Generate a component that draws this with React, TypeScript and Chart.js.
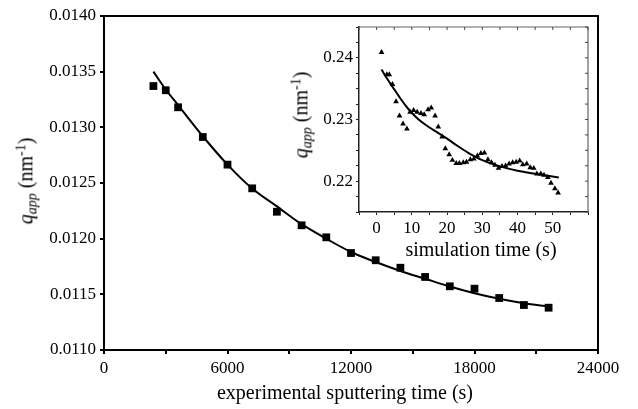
import React, { useEffect, useRef } from "react";
import { Chart, registerables } from "chart.js";

Chart.register(...registerables);

const FONT = "'Liberation Serif', 'Times New Roman', serif";

// Main chart: experimental data
const sputterTime = [2400, 3000, 3600, 4800, 6000, 7200, 8400, 9600, 10800, 12000, 13200, 14400, 15600, 16800, 18000, 19200, 20400, 21600];
const qMeasured = [0.013371, 0.013333, 0.01318, 0.012913, 0.012665, 0.012452, 0.012242, 0.01212, 0.012012, 0.011871, 0.011806, 0.011739, 0.011656, 0.011572, 0.011551, 0.011467, 0.011404, 0.01138];
const fitTime = [2400, 3000, 3600, 4800, 6000, 7200, 8400, 9600, 10800, 12000, 13200, 14400, 15600, 16800, 18000, 19200, 20400, 21600];
const qFit = [0.0135, 0.01334, 0.0132, 0.01292, 0.012665, 0.01245, 0.01229, 0.01213, 0.012, 0.01188, 0.01179, 0.01171, 0.01164, 0.01157, 0.01151, 0.01146, 0.01142, 0.01139];

// Inset: simulation data
const simTime = [1.4, 2.9, 3.6, 4.5, 5.5, 6.5, 7.5, 8.6, 9.5, 10.5, 11.5, 12.6, 13.5, 14.6, 15.5, 16.6, 17.5, 18.6, 19.5, 20.6, 21.5, 22.6, 23.5, 24.6, 25.5, 26.6, 27.6, 28.6, 29.6, 30.6, 31.6, 32.6, 33.6, 34.6, 35.6, 36.6, 37.6, 38.6, 39.6, 40.6, 41.5, 42.6, 43.6, 44.6, 45.5, 46.6, 47.5, 48.6, 49.5, 50.6, 51.5];
const qSim = [0.2409, 0.2373, 0.2373, 0.2357, 0.2329, 0.2306, 0.2293, 0.2285, 0.2312, 0.2315, 0.2312, 0.231, 0.2308, 0.2316, 0.2319, 0.2306, 0.2288, 0.2272, 0.2253, 0.2243, 0.2234, 0.2229, 0.2229, 0.223, 0.2231, 0.2235, 0.2236, 0.2241, 0.2245, 0.2246, 0.2235, 0.223, 0.2226, 0.2221, 0.2224, 0.2225, 0.2228, 0.223, 0.2231, 0.2233, 0.2227, 0.2228, 0.2222, 0.2221, 0.2212, 0.2212, 0.221, 0.2206, 0.2197, 0.2188, 0.2181];
const simFitTime = [1.4, 3, 5, 7, 9, 11, 13, 15, 17, 20, 23, 26, 30, 35, 40, 45, 51.7];
const qSimFit = [0.2381, 0.2366, 0.2349, 0.2332, 0.2317, 0.2305, 0.2295, 0.2287, 0.228, 0.2269, 0.2257, 0.2246, 0.2234, 0.2224, 0.2217, 0.2212, 0.2206];

const mainXLabelStep = 6000;

const toXY = (xs: number[], ys: number[]) => xs.map((x, i) => ({ x, y: ys[i] }));

const mainFrame = {
  id: "mainFrame",
  afterDraw(chart: any) {
    const { ctx, chartArea: a } = chart;
    ctx.save();
    ctx.strokeStyle = "#000";
    ctx.lineWidth = 2;
    ctx.strokeRect(a.left, a.top, a.right - a.left, a.bottom - a.top);
    ctx.restore();
  },
};

const insetFrame = {
  id: "insetFrame",
  afterDraw(chart: any) {
    const { ctx, chartArea: a } = chart;
    const xs = chart.scales.x;
    const ys = chart.scales.y;
    ctx.save();
    ctx.strokeStyle = "#666";
    ctx.lineWidth = 1.2;
    ctx.beginPath();
    ctx.moveTo(a.left, a.top);
    ctx.lineTo(a.right, a.top);
    ctx.lineTo(a.right, a.bottom);
    ctx.stroke();
    ctx.strokeStyle = "#444";
    ctx.lineWidth = 1;
    ctx.beginPath();
    xs.ticks.forEach((t: any) => {
      const px = xs.getPixelForValue(t.value);
      ctx.moveTo(px, a.top);
      ctx.lineTo(px, a.top + 3);
    });
    ys.ticks.forEach((t: any) => {
      const py = ys.getPixelForValue(t.value);
      ctx.moveTo(a.right, py);
      ctx.lineTo(a.right - 3, py);
    });
    ctx.stroke();
    ctx.restore();
  },
};

const tickFont = { family: FONT, size: 17 };

export default function App() {
  const mainRef = useRef<HTMLCanvasElement>(null);
  const insetRef = useRef<HTMLCanvasElement>(null);

  useEffect(() => {
    document.body.style.margin = "0";
    const main = new Chart(mainRef.current!, {
      type: "scatter",
      data: {
        datasets: [
          {
            type: "line",
            data: toXY(fitTime, qFit),
            borderColor: "#000",
            borderWidth: 2,
            pointRadius: 0,
            cubicInterpolationMode: "monotone",
            fill: false,
          },
          {
            data: toXY(sputterTime, qMeasured),
            pointStyle: "rect",
            pointRadius: 5.5,
            backgroundColor: "#000",
            borderColor: "#000",
            borderWidth: 0,
          },
        ],
      } as any,
      options: {
        responsive: false,
        animation: false,
        events: [],
        layout: { padding: { top: 16, right: 40, left: 0, bottom: 0 } },
        plugins: { legend: { display: false }, tooltip: { enabled: false } },
        scales: {
          x: {
            type: "linear",
            min: 0,
            max: 24000,
            afterFit: (s: any) => { s.height = 59; },
            border: { color: "#000", width: 2 },
            grid: { drawOnChartArea: false, drawTicks: true, tickLength: 4, color: "#000", lineWidth: 2 },
            ticks: {
              stepSize: 3000,
              color: "#000",
              font: tickFont,
              padding: 4,
              maxRotation: 0,
              autoSkip: false,
              callback: (v: any) => (Number(v) % mainXLabelStep === 0 ? String(v) : ""),
            },
          },
          y: {
            type: "linear",
            min: 0.011,
            max: 0.014,
            afterFit: (s: any) => { s.width = 104; },
            border: { color: "#000", width: 2 },
            grid: { drawOnChartArea: false, drawTicks: true, tickLength: 4, color: "#000", lineWidth: 2 },
            ticks: {
              stepSize: 0.0005,
              color: "#000",
              font: tickFont,
              padding: 4,
              autoSkip: false,
              callback: (v: any) => Number(v).toFixed(4),
            },
          },
        },
      } as any,
      plugins: [mainFrame],
    });

    const inset = new Chart(insetRef.current!, {
      type: "scatter",
      data: {
        datasets: [
          {
            type: "line",
            data: toXY(simFitTime, qSimFit),
            borderColor: "#000",
            borderWidth: 2,
            pointRadius: 0,
            cubicInterpolationMode: "monotone",
            fill: false,
          },
          {
            data: toXY(simTime, qSim),
            pointStyle: "triangle",
            pointRadius: 3.3,
            backgroundColor: "#000",
            borderColor: "#000",
            borderWidth: 0,
          },
        ],
      } as any,
      options: {
        responsive: false,
        animation: false,
        events: [],
        layout: { padding: { top: 27, right: 50, left: 0, bottom: 0 } },
        plugins: { legend: { display: false }, tooltip: { enabled: false } },
        scales: {
          x: {
            type: "linear",
            min: -5,
            max: 60,
            afterFit: (s: any) => { s.height = 197; },
            border: { color: "#222", width: 1.5 },
            grid: { drawOnChartArea: false, drawTicks: true, tickLength: 3, color: "#222", lineWidth: 1 },
            ticks: {
              stepSize: 5,
              color: "#000",
              font: tickFont,
              padding: 3,
              maxRotation: 0,
              autoSkip: false,
              callback: (v: any) => {
                const n = Number(v);
                return n % 10 === 0 && n >= 0 && n <= 50 ? String(n) : "";
              },
            },
          },
          y: {
            type: "linear",
            min: 0.215,
            max: 0.245,
            afterFit: (s: any) => { s.width = 359; },
            border: { color: "#222", width: 1.5 },
            grid: { drawOnChartArea: false, drawTicks: true, tickLength: 3, color: "#222", lineWidth: 1 },
            ticks: {
              stepSize: 0.0025,
              color: "#000",
              font: tickFont,
              padding: 3,
              autoSkip: false,
              callback: (v: any) => {
                const n = Number(v) * 100;
                return Math.abs(n - Math.round(n)) < 1e-6 ? (Math.round(n) / 100).toFixed(2) : "";
              },
            },
          },
        },
      } as any,
      plugins: [insetFrame],
    });

    return () => {
      main.destroy();
      inset.destroy();
    };
  }, []);

  const textStyle: React.CSSProperties = {
    position: "absolute",
    fontFamily: FONT,
    fontSize: 20,
    color: "#000",
    whiteSpace: "nowrap",
    lineHeight: 1,
    transform: "translate(-50%, -50%)",
  };
  const rot: React.CSSProperties = { ...textStyle, transform: "translate(-50%, -50%) rotate(-90deg)" };
  const sub: React.CSSProperties = { fontSize: 14, fontStyle: "italic", verticalAlign: "-0.3em" };
  const sup: React.CSSProperties = { fontSize: 14, verticalAlign: "0.5em" };

  const yTitle = (
    <>
      <i>q</i>
      <span style={sub}>app</span> (nm<span style={sup}>-1</span>)
    </>
  );

  return (
    <div style={{ position: "absolute", left: 0, top: 0, width: 638, height: 409, background: "#fff" }}>
      <canvas ref={mainRef} width={638} height={409} style={{ position: "absolute", left: 0, top: 0 }} />
      <canvas ref={insetRef} width={638} height={409} style={{ position: "absolute", left: 0, top: 0 }} />
      <div style={{ ...textStyle, left: 345, top: 392 }}>experimental sputtering time (s)</div>
      <div style={{ ...textStyle, left: 481, top: 249 }}>simulation time (s)</div>
      <div style={{ ...rot, left: 27, top: 181 }}>{yTitle}</div>
      <div style={{ ...rot, left: 302, top: 115 }}>{yTitle}</div>
    </div>
  );
}
